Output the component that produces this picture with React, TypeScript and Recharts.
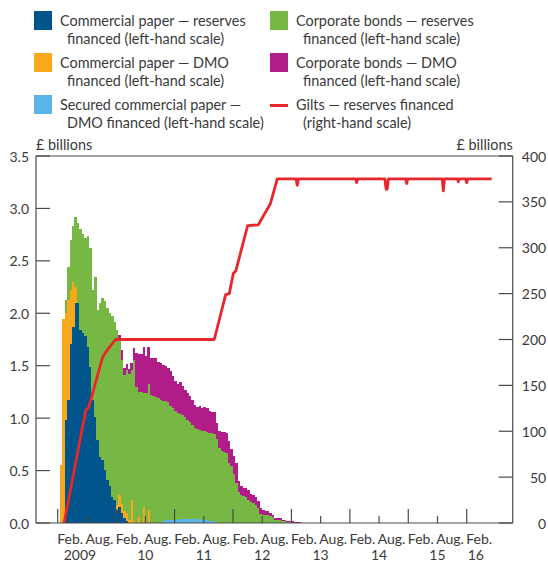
import React from "react";
import { ComposedChart, Bar, Line, XAxis, YAxis, ReferenceLine } from "recharts";

// ---------- data ----------
// Half-monthly periods starting with period 1 = second half of January 2009
const START_YEAR = 2009;
const PERIODS_PER_YEAR = 24;
const FIRST_PERIOD = 1;

const cpReserves = [
  0, 0, 0.98, 1.17, 1.71, 1.87, 2.1, 2.1, 1.84, 1.81,
  1.78, 1.68, 1.49, 1.17, 1.01, 0.79, 0.63, 0.6, 0.51, 0.41,
  0.35, 0.25, 0.22, 0.12, 0.15, 0.1, 0.05, 0.02,
];
const cpDmo = [
  0.55, 1.95, 1.02, 0.96, 0.51, 0.43, 0.15, 0, 0, 0,
  0, 0, 0, 0, 0, 0, 0, 0, 0, 0,
  0, 0, 0, 0.05, 0.12, 0.08, 0.06, 0.08, 0.03, 0.22,
  0.02, 0, 0.06, 0, 0.15, 0, 0.12,
];
const scpDmo = [
  0, 0, 0, 0, 0, 0, 0, 0, 0, 0,
  0, 0, 0, 0, 0, 0, 0, 0, 0, 0,
  0, 0, 0, 0, 0, 0, 0, 0, 0, 0,
  0, 0, 0, 0, 0, 0, 0, 0, 0, 0,
  0, 0, 0.02, 0.03, 0.03, 0.03, 0.03, 0.03, 0.03, 0.04,
  0.04, 0.04, 0.04, 0.04, 0.04, 0.04, 0.04, 0.04, 0.03, 0.03,
  0.03, 0.02, 0.02, 0.02,
];
const cbReserves = [
  0, 0, 0.13, 0.31, 0.48, 0.53, 0.67, 0.76, 0.96, 0.95,
  0.94, 1.06, 1.13, 1.05, 1.34, 1.24, 1.47, 1.55, 1.61, 1.64,
  1.65, 1.72, 1.7, 1.67, 1.47, 1.37, 1.3, 1.36, 1.39, 1.24,
  1.53, 1.3, 1.19, 1.25, 1.09, 1.24, 1.21, 1.22, 1.21, 1.2,
  1.19, 1.17, 1.14, 1.13, 1.12, 1.09, 1.07, 1.04, 1.02, 1.0,
  0.99, 0.97, 0.94, 0.92, 0.89, 0.87, 0.86, 0.85, 0.85, 0.85,
  0.84, 0.84, 0.84, 0.83, 0.8, 0.72, 0.69, 0.68, 0.67, 0.57,
  0.54, 0.47, 0.38, 0.3, 0.27, 0.26, 0.25, 0.22, 0.2, 0.19,
  0.17, 0.14, 0.09, 0.08, 0.08, 0.08, 0.07, 0.06, 0.03, 0.03,
  0.03, 0.02, 0.02, 0.01, 0.01, 0, 0, 0, 0,
];
const cbDmo = [
  0, 0, 0, 0, 0, 0, 0, 0, 0, 0,
  0, 0, 0, 0, 0, 0, 0, 0, 0, 0,
  0, 0, 0, 0, 0.05, 0.1, 0.07, 0.06, 0.05, 0.07,
  0.12, 0.32, 0.36, 0.36, 0.44, 0.35, 0.35, 0.35, 0.36, 0.37,
  0.35, 0.36, 0.35, 0.34, 0.33, 0.33, 0.3, 0.28, 0.28, 0.3,
  0.28, 0.26, 0.26, 0.25, 0.24, 0.22, 0.21, 0.23, 0.22, 0.23,
  0.23, 0.21, 0.2, 0.21, 0.15, 0.16, 0.18, 0.19, 0.19, 0.21,
  0.17, 0.17, 0.19, 0.1, 0.08, 0.07, 0.08, 0.09, 0.08, 0.08,
  0.08, 0.07, 0.05, 0.04, 0.03, 0.03, 0.03, 0.02, 0.02, 0.02,
  0.02, 0.01, 0.01, 0.01, 0.01, 0.02, 0.01, 0.01, 0.005,
];

// Gilts — reserves financed (right-hand scale), breakpoints (year fraction, £bn)
const giltDates = [
  2009.11, 2009.48, 2009.53, 2009.77, 2009.83, 2009.99,
  2011.68, 2011.875, 2011.937, 2012.005, 2012.05, 2012.25, 2012.433, 2012.64, 2012.758,
  2013.08, 2013.1, 2013.12,
  2014.1, 2014.117, 2014.135,
  2014.6, 2014.62, 2014.64, 2014.66,
  2014.955, 2014.973, 2014.99,
  2015.58, 2015.6, 2015.62,
  2015.84, 2015.856, 2015.87,
  2015.985, 2016.0, 2016.015,
  2016.428,
];
const giltValues = [
  0, 123, 126, 181, 187, 200,
  200, 249, 250, 272, 275, 324, 325, 348, 375,
  375, 368, 375,
  375, 371, 375,
  375, 364, 364, 375,
  375, 370, 375,
  375, 362, 375,
  375, 372, 375,
  375, 371, 375,
  375,
];

// Axis ticks and labels
const leftTicks = [0, 0.5, 1, 1.5, 2, 2.5, 3, 3.5];
const rightTicks = [0, 50, 100, 150, 200, 250, 300, 350, 400];
const yearTicks = [2009, 2010, 2011, 2012, 2013, 2014, 2015, 2016];
const halfYearTicks = [2009.5, 2010.5, 2011.5, 2012.5, 2013.5, 2014.5, 2015.5];
const monthLabelPos = [
  2009.214, 2009.714, 2010.214, 2010.714, 2011.214, 2011.714, 2012.214, 2012.714,
  2013.214, 2013.714, 2014.214, 2014.714, 2015.214, 2015.714, 2016.214,
];
const monthLabels = [
  "Feb.", "Aug.", "Feb.", "Aug.", "Feb.", "Aug.", "Feb.", "Aug.",
  "Feb.", "Aug.", "Feb.", "Aug.", "Feb.", "Aug.", "Feb.",
];
const yearLabelPos = [2009.38, 2010.5, 2011.5, 2012.5, 2013.5, 2014.5, 2015.5, 2016.155];
const yearLabels = ["2009", "10", "11", "12", "13", "14", "15", "16"];

const X_DOMAIN: [number, number] = [2008.6286, 2016.787];

// ---------- styles ----------
const C_BLUE = "#00558c";
const C_ORANGE = "#f9a81b";
const C_LBLUE = "#58b5e5";
const C_GREEN = "#76b843";
const C_MAGENTA = "#b01c88";
const C_RED = "#e9262b";
const C_TEXT = "#3a3a3a";
const C_AXIS = "#4a4a4a";
const FONT = "Lato, 'Open Sans', sans-serif";
const FS_TICK = 14;
const FS_LEG = 14.4;
const FS_X = 14;
const BAR_MIN_W = 2.6;

const data = cbReserves.map((_, i) => ({
  x: START_YEAR + (FIRST_PERIOD + i + 0.5) / PERIODS_PER_YEAR,
  cpReserves: cpReserves[i] ?? 0,
  cpDmo: cpDmo[i] ?? 0,
  scpDmo: scpDmo[i] ?? 0,
  cbReserves: cbReserves[i] ?? 0,
  cbDmo: cbDmo[i] ?? 0,
}));

const giltData = giltDates.map((d, i) => ({ x: d, gilts: giltValues[i] }));

const xTicks = [
  ...yearTicks,
  ...halfYearTicks,
  ...monthLabelPos.filter((p) => p < X_DOMAIN[1]),
  ...yearLabelPos.filter((p) => !halfYearTicks.includes(p)),
].sort((a, b) => a - b);

// Solid bar: keeps the library's centre and height, widened slightly so neighbouring periods touch
const SolidBar = (props: any) => {
  const { x, y, width, height, fill } = props;
  if (!height || height <= 0) return <g />;
  const w = Math.max(width, BAR_MIN_W);
  const cx = x + width / 2;
  return <rect x={cx - w / 2} y={y} width={w} height={height} fill={fill} shapeRendering="crispEdges" />;
};

const LeftTick = (props: any) => {
  const { x, y, payload } = props;
  return (
    <g>
      <line x1={x} x2={x + 14} y1={y} y2={y} stroke={C_AXIS} strokeWidth={1.2} />
      <text x={x - 7} y={y} textAnchor="end" dominantBaseline="central" fill={C_TEXT} fontSize={FS_TICK} fontFamily={FONT}>
        {Number(payload.value).toFixed(1)}
      </text>
    </g>
  );
};

const RightTick = (props: any) => {
  const { x, y, payload } = props;
  return (
    <g>
      <line x1={x} x2={x - 14} y1={y} y2={y} stroke={C_AXIS} strokeWidth={1.2} />
      <text x={x + 33.5} y={y} textAnchor="end" dominantBaseline="central" fill={C_TEXT} fontSize={FS_TICK} fontFamily={FONT}>
        {payload.value}
      </text>
    </g>
  );
};

const BottomTick = (props: any) => {
  const { x, y, payload } = props;
  const v = payload.value;
  const els: React.ReactNode[] = [];
  if (yearTicks.includes(v)) {
    els.push(<line key="l" x1={x} x2={x} y1={y} y2={y - 14} stroke={C_AXIS} strokeWidth={1.2} />);
  }
  if (halfYearTicks.includes(v)) {
    els.push(<line key="s" x1={x} x2={x} y1={y} y2={y - 7} stroke={C_AXIS} strokeWidth={1.2} />);
  }
  const mi = monthLabelPos.indexOf(v);
  if (mi >= 0) {
    els.push(
      <text key="m" x={x} y={y + 15} textAnchor="middle" dominantBaseline="central" fill={C_TEXT} fontSize={FS_X} fontFamily={FONT}>
        {monthLabels[mi]}
      </text>
    );
  }
  const yi = yearLabelPos.indexOf(v);
  if (yi >= 0) {
    els.push(
      <text key="y" x={x} y={y + 31} textAnchor="middle" dominantBaseline="central" fill={C_TEXT} fontSize={FS_X} fontFamily={FONT}>
        {yearLabels[yi]}
      </text>
    );
  }
  return <g>{els}</g>;
};

const legendItems = [
  { l1: "Commercial paper — reserves", l2: "financed (left-hand scale)", color: C_BLUE, line: false, col: 0, row: 0 },
  { l1: "Commercial paper — DMO", l2: "financed (left-hand scale)", color: C_ORANGE, line: false, col: 0, row: 1 },
  { l1: "Secured commercial paper —", l2: "DMO financed (left-hand scale)", color: C_LBLUE, line: false, col: 0, row: 2 },
  { l1: "Corporate bonds — reserves", l2: "financed (left-hand scale)", color: C_GREEN, line: false, col: 1, row: 0 },
  { l1: "Corporate bonds — DMO", l2: "financed (left-hand scale)", color: C_MAGENTA, line: false, col: 1, row: 1 },
  { l1: "Gilts — reserves financed", l2: "(right-hand scale)", color: C_RED, line: true, col: 1, row: 2 },
];
const LEG_COL_X = [34, 270];
const LEG_ROW_Y = [11, 53, 95];

export default function App() {
  return (
    <div style={{ position: "absolute", left: 0, top: 0, width: 548, height: 563, background: "#fff", fontFamily: FONT, color: C_TEXT }}>
      {legendItems.map((it, k) => {
        const lx = LEG_COL_X[it.col];
        const ly = LEG_ROW_Y[it.row];
        return (
          <div key={k}>
            {it.line ? (
              <div style={{ position: "absolute", left: lx, top: ly + 9, width: 18, height: 3, background: it.color }} />
            ) : (
              <div style={{ position: "absolute", left: lx, top: ly, width: 18, height: 19, background: it.color }} />
            )}
            <div style={{ position: "absolute", left: lx + 26, top: ly + 1, fontSize: FS_LEG, lineHeight: "18px", whiteSpace: "nowrap" }}>
              {it.l1}
            </div>
            <div style={{ position: "absolute", left: lx + 33, top: ly + 19, fontSize: FS_LEG, lineHeight: "18px", whiteSpace: "nowrap" }}>
              {it.l2}
            </div>
          </div>
        );
      })}
      <div style={{ position: "absolute", left: 36, top: 136, fontSize: FS_LEG, lineHeight: "18px", whiteSpace: "nowrap" }}>£ billions</div>
      <div style={{ position: "absolute", right: 548 - 512.7, top: 136, fontSize: FS_LEG, lineHeight: "18px", whiteSpace: "nowrap" }}>£ billions</div>

      <div style={{ position: "absolute", left: 0, top: 0 }}>
        <ComposedChart width={548} height={563} data={data} margin={{ top: 156, right: 0, bottom: 0, left: 0 }} barGap={0} barCategoryGap={0}>
          <XAxis
            dataKey="x"
            type="number"
            domain={X_DOMAIN}
            allowDataOverflow
            ticks={xTicks}
            interval={0}
            height={40}
            tickSize={0}
            tickMargin={0}
            tickLine={false}
            axisLine={{ stroke: C_AXIS, strokeWidth: 1.2 }}
            tick={BottomTick}
          />
          <XAxis xAxisId="line" dataKey="x" type="number" domain={X_DOMAIN} allowDataOverflow hide />
          <YAxis
            yAxisId="left"
            orientation="left"
            width={36}
            domain={[0, 3.5]}
            ticks={leftTicks}
            interval={0}
            tickSize={0}
            tickMargin={0}
            tickLine={false}
            axisLine={{ stroke: C_AXIS, strokeWidth: 1.2 }}
            tick={LeftTick}
            allowDataOverflow
          />
          <YAxis
            yAxisId="right"
            orientation="right"
            width={35.3}
            domain={[0, 400]}
            ticks={rightTicks}
            interval={0}
            tickSize={0}
            tickMargin={0}
            tickLine={false}
            axisLine={{ stroke: C_AXIS, strokeWidth: 1.2 }}
            tick={RightTick}
            allowDataOverflow
          />
          <ReferenceLine yAxisId="left" y={3.5} stroke={C_AXIS} strokeWidth={1.2} />
          <Bar yAxisId="left" dataKey="cpReserves" stackId="a" fill={C_BLUE} shape={SolidBar} isAnimationActive={false} />
          <Bar yAxisId="left" dataKey="cpDmo" stackId="a" fill={C_ORANGE} shape={SolidBar} isAnimationActive={false} />
          <Bar yAxisId="left" dataKey="scpDmo" stackId="a" fill={C_LBLUE} shape={SolidBar} isAnimationActive={false} />
          <Bar yAxisId="left" dataKey="cbReserves" stackId="a" fill={C_GREEN} shape={SolidBar} isAnimationActive={false} />
          <Bar yAxisId="left" dataKey="cbDmo" stackId="a" fill={C_MAGENTA} shape={SolidBar} isAnimationActive={false} />
          <Line
            xAxisId="line"
            yAxisId="right"
            data={giltData}
            dataKey="gilts"
            type="linear"
            stroke={C_RED}
            strokeWidth={2.8}
            dot={false}
            activeDot={false}
            isAnimationActive={false}
            strokeLinejoin="round"
          />
        </ComposedChart>
      </div>
    </div>
  );
}
